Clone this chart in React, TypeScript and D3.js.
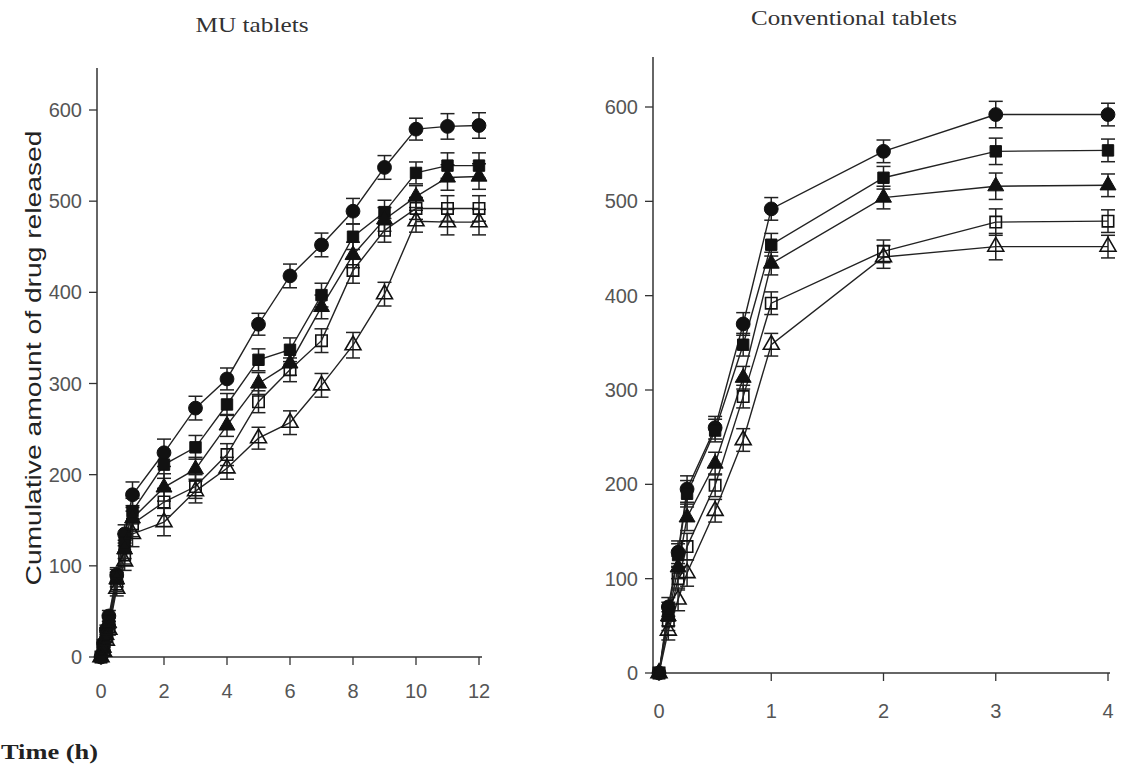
import React, { useEffect, useRef } from "react";
import * as d3 from "d3";

// MU tablets (left panel)
const muTimes = [0, 0.083, 0.17, 0.25, 0.5, 0.75, 1, 2, 3, 4, 5, 6, 7, 8, 9, 10, 11, 12];
const muCircle = [0, 15, 30, 45, 90, 135, 178, 224, 273, 305, 365, 418, 452, 489, 537, 579, 582, 583];
const muSquare = [0, 12, 27, 40, 88, 125, 160, 211, 230, 277, 326, 337, 397, 461, 488, 531, 539, 539];
const muTriangle = [0, 10, 24, 37, 85, 118, 152, 186, 206, 254, 300, 322, 384, 441, 480, 505, 526, 527];
const muOpenSquare = [0, 8, 22, 33, 80, 112, 146, 170, 187, 222, 280, 315, 347, 424, 468, 492, 492, 492];
const muOpenTriangle = [0, 6, 18, 30, 75, 105, 135, 148, 182, 207, 240, 257, 298, 342, 398, 478, 477, 477];
const muError = [0, 4, 5, 6, 8, 10, 14, 15, 13, 12, 12, 13, 13, 14, 13, 12, 14, 14];

// Conventional tablets (right panel)
const convTimes = [0, 0.083, 0.17, 0.25, 0.5, 0.75, 1, 2, 3, 4];
const convCircle = [0, 70, 128, 195, 260, 370, 492, 553, 592, 592];
const convSquare = [0, 65, 125, 190, 257, 348, 454, 525, 553, 554];
const convTriangle = [0, 60, 112, 165, 222, 313, 434, 504, 516, 517];
const convOpenSquare = [0, 55, 100, 134, 199, 293, 392, 447, 478, 479];
const convOpenTriangle = [0, 45, 78, 106, 172, 247, 348, 441, 452, 452];
const convError = [0, 10, 12, 14, 12, 12, 12, 12, 14, 12];

const yTicks = [0, 100, 200, 300, 400, 500, 600];
const muXTicks = [0, 2, 4, 6, 8, 10, 12];
const convXTicks = [0, 1, 2, 3, 4];

const markers = ["circle", "square", "triangle", "openSquare", "openTriangle"];

export default function App() {
  const svgRef = useRef(null);

  useEffect(() => {
    const svg = d3.select(svgRef.current);
    svg.selectAll("*").remove();

    const panel = (cfg) => {
      const { times, series, xTicks, x0, x1, xMax, yTop, yBottom, axisX, axisTop, axisRight, labelDy } = cfg;
      const x = d3.scaleLinear().domain([0, xMax]).range([x0, x1]);
      const y = d3.scaleLinear().domain([0, 600]).range([yBottom, yTop]);
      const g = svg.append("g");

      // axes
      g.append("line")
        .attr("x1", axisX).attr("x2", axisX)
        .attr("y1", axisTop).attr("y2", yBottom)
        .attr("stroke", "#333").attr("stroke-width", 1.5);
      g.append("line")
        .attr("x1", axisX).attr("x2", axisRight)
        .attr("y1", yBottom).attr("y2", yBottom)
        .attr("stroke", "#333").attr("stroke-width", 1.5);

      yTicks.forEach((t) => {
        g.append("line")
          .attr("x1", axisX - 8).attr("x2", axisX)
          .attr("y1", y(t)).attr("y2", y(t))
          .attr("stroke", "#333").attr("stroke-width", 1.3);
        g.append("text")
          .attr("x", axisX - 15).attr("y", y(t) + 7)
          .attr("text-anchor", "end")
          .attr("font-family", "Liberation Sans, Arial, sans-serif")
          .attr("font-size", 20)
          .attr("fill", "#555")
          .text(t);
      });
      xTicks.forEach((t) => {
        g.append("line")
          .attr("x1", x(t)).attr("x2", x(t))
          .attr("y1", yBottom).attr("y2", yBottom + 8)
          .attr("stroke", "#333").attr("stroke-width", 1.3);
        g.append("text")
          .attr("x", x(t)).attr("y", yBottom + labelDy)
          .attr("text-anchor", "middle")
          .attr("font-family", "Liberation Sans, Arial, sans-serif")
          .attr("font-size", 20)
          .attr("fill", "#555")
          .text(t);
      });

      const line = d3.line().x((d) => x(d[0])).y((d) => y(d[1]));

      series.forEach((s) => {
        const pts = times.map((t, i) => [t, s.values[i], s.err[i]]);
        g.append("path")
          .attr("d", line(pts))
          .attr("fill", "none")
          .attr("stroke", "#222")
          .attr("stroke-width", 1.4);
      });

      series.forEach((s) => {
        const pts = times.map((t, i) => [t, s.values[i], s.err[i]]);
        const eb = g.append("g").attr("stroke", "#222").attr("stroke-width", 1.5);
        pts.filter((d) => d[2] > 0).forEach((d) => {
          const cx = x(d[0]);
          const yt = y(d[1] + d[2]);
          const yb = y(d[1] - d[2]);
          eb.append("line").attr("x1", cx).attr("x2", cx).attr("y1", yt).attr("y2", yb);
          eb.append("line").attr("x1", cx - 7).attr("x2", cx + 7).attr("y1", yt).attr("y2", yt);
          eb.append("line").attr("x1", cx - 7).attr("x2", cx + 7).attr("y1", yb).attr("y2", yb);
        });
      });

      series.forEach((s) => {
        const pts = times.map((t, i) => [t, s.values[i]]);
        const open = s.marker.startsWith("open");
        const type = s.marker.toLowerCase().includes("triangle")
          ? d3.symbolTriangle
          : s.marker.toLowerCase().includes("square")
          ? d3.symbolSquare
          : d3.symbolCircle;
        const size = type === d3.symbolTriangle ? 110 : type === d3.symbolSquare ? 130 : 150;
        const sym = d3.symbol().type(type).size(size);
        g.append("g")
          .selectAll("path")
          .data(pts)
          .join("path")
          .attr("d", sym)
          .attr("transform", (d) => `translate(${x(d[0])},${y(d[1])})`)
          .attr("fill", open ? "none" : "#111")
          .attr("stroke", "#111")
          .attr("stroke-width", open ? 1.6 : 1);
      });
    };

    panel({
      times: muTimes,
      series: [muCircle, muSquare, muTriangle, muOpenSquare, muOpenTriangle].map((v, i) => ({
        values: v,
        err: muError,
        marker: markers[i],
      })),
      xTicks: muXTicks,
      x0: 101,
      x1: 479,
      xMax: 12,
      yTop: 110,
      yBottom: 657,
      axisX: 97,
      axisTop: 68,
      axisRight: 482,
      labelDy: 41,
    });

    panel({
      times: convTimes,
      series: [convCircle, convSquare, convTriangle, convOpenSquare, convOpenTriangle].map((v, i) => ({
        values: v,
        err: convError,
        marker: markers[i],
      })),
      xTicks: convXTicks,
      x0: 659,
      x1: 1108,
      xMax: 4,
      yTop: 107,
      yBottom: 673,
      axisX: 653,
      axisTop: 57,
      axisRight: 1110,
      labelDy: 45,
    });

    // titles and axis labels
    svg.append("text")
      .attr("x", 252).attr("y", 32)
      .attr("text-anchor", "middle")
      .attr("font-family", "Liberation Serif, serif")
      .attr("font-size", 21)
      .attr("fill", "#333")
      .attr("textLength", 113)
      .attr("lengthAdjust", "spacingAndGlyphs")
      .text("MU tablets");
    svg.append("text")
      .attr("x", 854).attr("y", 25)
      .attr("text-anchor", "middle")
      .attr("font-family", "Liberation Serif, serif")
      .attr("font-size", 21)
      .attr("fill", "#333")
      .attr("textLength", 206)
      .attr("lengthAdjust", "spacingAndGlyphs")
      .text("Conventional tablets");
    svg.append("text")
      .attr("transform", "translate(41,358) rotate(-90)")
      .attr("text-anchor", "middle")
      .attr("font-family", "Liberation Sans, Arial, sans-serif")
      .attr("font-size", 22)
      .attr("fill", "#222")
      .attr("textLength", 455)
      .attr("lengthAdjust", "spacingAndGlyphs")
      .text("Cumulative amount of drug released");
    svg.append("text")
      .attr("x", 1).attr("y", 759)
      .attr("font-family", "Liberation Serif, serif")
      .attr("font-weight", "bold")
      .attr("font-size", 22)
      .attr("fill", "#222")
      .attr("textLength", 97)
      .attr("lengthAdjust", "spacingAndGlyphs")
      .text("Time (h)");
  }, []);

  return (
    <div>
      <svg
        ref={svgRef}
        width={1121}
        height={769}
        style={{ position: "absolute", left: 0, top: 0, background: "#fff" }}
      />
    </div>
  );
}
